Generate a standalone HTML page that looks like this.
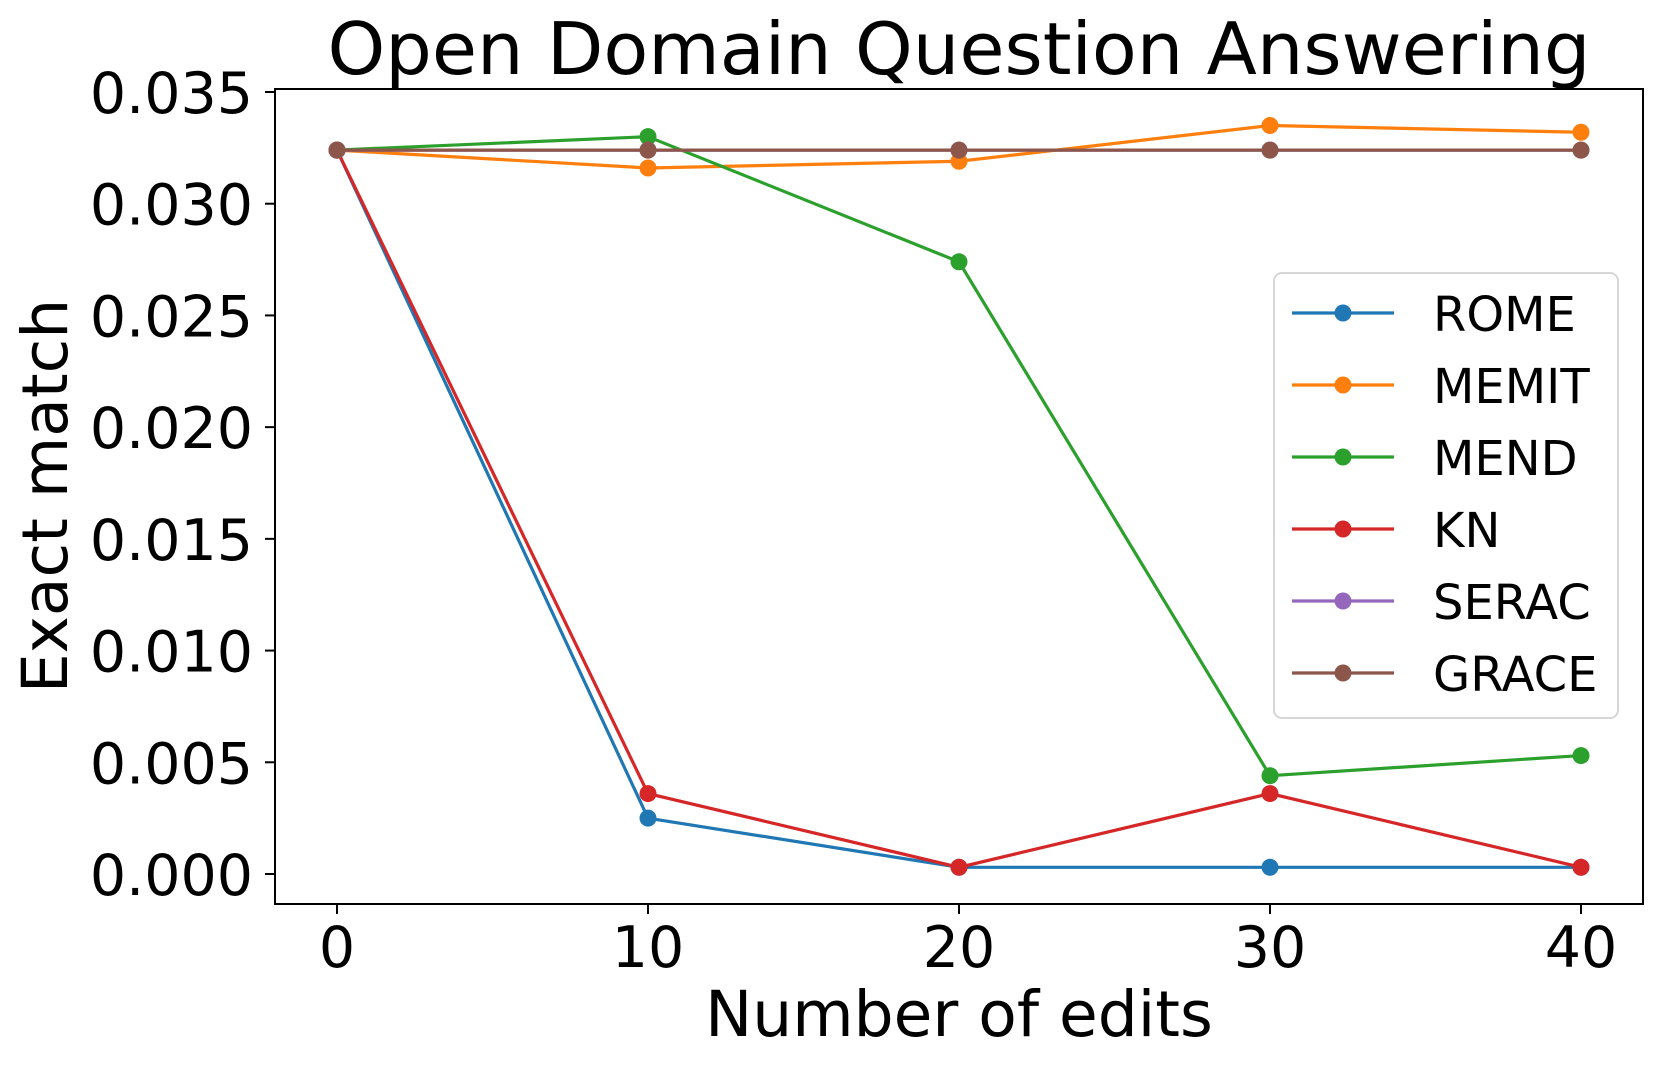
<!DOCTYPE html>
<html><head><meta charset="utf-8"><style>
html,body{margin:0;padding:0;background:#fff;}
svg{display:block;font-family:"DejaVu Sans","Liberation Sans",sans-serif;}
</style></head><body>
<svg id="chart" width="1661" height="1068" viewBox="0 0 1661 1068">
<rect width="1661" height="1068" fill="#fff"/>
<text x="959" y="74" font-size="72" text-anchor="middle" textLength="1263" lengthAdjust="spacingAndGlyphs">Open Domain Question Answering</text>
<g id="plot"></g>
<rect x="275" y="89" width="1368" height="815" fill="none" stroke="#000" stroke-width="2"/>
<g id="xticks"></g>
<g id="yticks"></g>
<text x="959" y="1036" font-size="63" text-anchor="middle">Number of edits</text>
<text transform="translate(67,496) rotate(-90)" font-size="63" text-anchor="middle">Exact match</text>
<g id="legend"></g>
</svg>
<script>
const categories = [0, 10, 20, 30, 40];
const seriesNames = ["ROME", "MEMIT", "MEND", "KN", "SERAC", "GRACE"];
const colors = ["#1f77b4", "#ff7f0e", "#2ca02c", "#d62728", "#9467bd", "#8c564b"];
const romeValues = [0.0324, 0.0025, 0.0003, 0.0003, 0.0003];
const memitValues = [0.0324, 0.0316, 0.0319, 0.0335, 0.0332];
const mendValues = [0.0324, 0.0330, 0.0274, 0.0044, 0.0053];
const knValues = [0.0324, 0.0036, 0.0003, 0.0036, 0.0003];
const seracValues = [0.0324, 0.0324, 0.0324, 0.0324, 0.0324];
const graceValues = [0.0324, 0.0324, 0.0324, 0.0324, 0.0324];
const xTickLabels = ["0", "10", "20", "30", "40"];
const yTickValues = [0, 0.005, 0.010, 0.015, 0.020, 0.025, 0.030, 0.035];
const yTickLabels = ["0.000", "0.005", "0.010", "0.015", "0.020", "0.025", "0.030", "0.035"];

const NS = "http://www.w3.org/2000/svg";
const x = v => 337 + (v - 0) / 40 * (1581 - 337);
const y = v => 874 - v / 0.035 * (874 - 92);
function mk(tag, attrs, parent) {
  const e = document.createElementNS(NS, tag);
  for (const k in attrs) e.setAttribute(k, attrs[k]);
  parent.appendChild(e);
  return e;
}
const plot = document.getElementById("plot");
const allSeries = [romeValues, memitValues, mendValues, knValues, seracValues, graceValues];
allSeries.forEach((vals, i) => {
  const g = mk("g", {}, plot);
  
  
  const pts = vals.map((v, j) => x(categories[j]) + "," + y(v)).join(" ");
  const pl = mk("polyline", {points: pts, fill: "none", stroke: colors[i], "stroke-width": 3.2}, g);
  
  
  vals.forEach((v, j) => {
    const c = mk("circle", {cx: x(categories[j]), cy: y(v), r: 8.5, fill: colors[i]}, g);
    
    
  });
});
const xt = document.getElementById("xticks");
categories.forEach((c, j) => {
  const t = mk("line", {x1: x(c), x2: x(c), y1: 904, y2: 914, stroke: "#000", "stroke-width": 2}, xt);
  
  
  const l = mk("text", {x: x(c), y: 967, "font-size": 57, "text-anchor": "middle"}, xt);
  l.textContent = xTickLabels[j];
  
  
});
const yt = document.getElementById("yticks");
yTickValues.forEach((v, j) => {
  const t = mk("line", {x1: 265, x2: 275, y1: y(v), y2: y(v), stroke: "#000", "stroke-width": 2}, yt);
  
  
  const l = mk("text", {x: 253, y: y(v) + 21, "font-size": 57, "text-anchor": "end"}, yt);
  l.textContent = yTickLabels[j];
  
  
});
const lg = document.getElementById("legend");
const box = mk("rect", {x: 1274, y: 273, width: 344, height: 445, rx: 8, fill: "#fff", "fill-opacity": 0.8, stroke: "#d6d6d6", "stroke-width": 2}, lg);


seriesNames.forEach((n, i) => {
  const yy = 313 + i * 72;
  const g = mk("g", {}, lg);
  
  
  mk("line", {x1: 1292, x2: 1394, y1: yy, y2: yy, stroke: colors[i], "stroke-width": 3.2}, g);
  mk("circle", {cx: 1343, cy: yy, r: 8.5, fill: colors[i]}, g);
  const t = mk("text", {x: 1433, y: yy + 18, "font-size": 48}, g);
  t.textContent = n;
});
</script>
</body></html>
